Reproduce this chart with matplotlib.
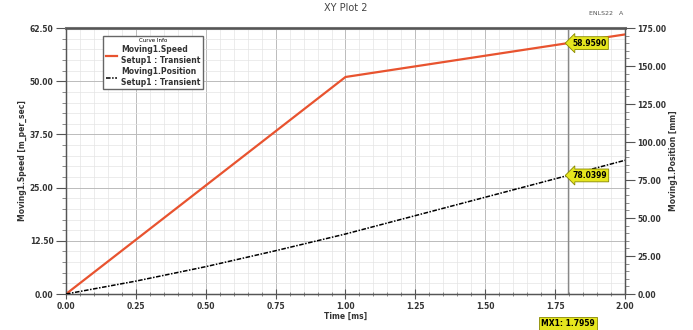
import numpy as np
import matplotlib
matplotlib.use("Agg")
from matplotlib import pyplot as plt
from matplotlib.ticker import MultipleLocator

# data
time_ms = [0.0, 0.25, 0.5, 0.75, 1.0, 1.25, 1.5, 1.75, 2.0]
speed = [0.0, 12.75, 25.5, 38.25, 51.0, 53.5, 56.0, 58.5, 61.0]
position = [0.0, 8.5, 18.0, 28.5, 39.5, 51.6, 63.7, 75.8, 88.0]
marker_t = 1.7959

fig = plt.figure(figsize=(6.93, 3.3), dpi=100)
ax = fig.add_axes([0.0952, 0.109, 0.8067, 0.806])
ax2 = ax.twinx()

ax.plot(time_ms, speed, color="#e8532f", lw=1.6, zorder=3)
ax2.plot(time_ms, position, color="black", lw=1.1, ls=(0, (3, 1, 1, 1)), zorder=3)

ax.set_xlim(0, 2)
ax.set_ylim(0, 62.5)
ax2.set_ylim(0, 175)

tf = dict(fontsize=5.5, fontweight="bold", color="#333333")
ax.xaxis.set_major_locator(MultipleLocator(0.25))
ax.xaxis.set_minor_locator(MultipleLocator(0.05))
ax.yaxis.set_major_locator(MultipleLocator(12.5))
ax.yaxis.set_minor_locator(MultipleLocator(2.5))
ax2.yaxis.set_major_locator(MultipleLocator(25))
ax2.yaxis.set_minor_locator(MultipleLocator(5))
ax.xaxis.set_major_formatter(lambda v, p: f"{v:.2f}")
ax.yaxis.set_major_formatter(lambda v, p: f"{v:.2f}")
ax2.yaxis.set_major_formatter(lambda v, p: f"{v:.2f}")

for a in (ax, ax2):
    a.tick_params(which="major", length=7, width=0.8, color="#555555", pad=2, labelsize=5.5)
    a.tick_params(which="minor", length=3, width=0.6, color="#777777")
    for lab in a.get_xticklabels() + a.get_yticklabels():
        lab.set_fontweight("bold")
        lab.set_color("#333333")
    for s in a.spines.values():
        s.set_color("#555555")
        s.set_linewidth(0.9)
ax.tick_params(axis="x", which="both", direction="inout")
ax.spines["top"].set_linewidth(2.2)
ax.spines["top"].set_color("#777777")

ax.grid(which="major", color="#bbbbbb", lw=0.7)
ax.grid(which="minor", color="#e4e4e4", lw=0.5)
ax.set_axisbelow(True)

ax.set_xlabel("Time [ms]", labelpad=1, **tf)
ax.set_ylabel("Moving1.Speed [m_per_sec]", labelpad=2, **tf)
ax2.set_ylabel("Moving1.Position [mm]", labelpad=2, **tf)
ax.set_title("XY Plot 2", fontsize=7, color="#444444", pad=12)
fig.text(0.875, 0.955, "ENLS22   A", fontsize=4.5, color="#555555", ha="center")

# marker line and labels
ax.axvline(marker_t, color="#888888", lw=1.0, zorder=2)
sp_m = np.interp(marker_t, time_ms, speed)
ps_m = np.interp(marker_t, time_ms, position)
box = dict(boxstyle="larrow,pad=0.25", fc="#e6e61e", ec="#888800", lw=0.6)
ax.text(marker_t + 0.015, sp_m, f"{sp_m:.4f}", fontsize=5.5, fontweight="bold",
        va="center", ha="left", bbox=box, zorder=5)
ax2.text(marker_t + 0.015, ps_m, f"{ps_m:.4f}", fontsize=5.5, fontweight="bold",
         va="center", ha="left", bbox=box, zorder=5)
ax.annotate(f"MX1: {marker_t:.4f}", xy=(marker_t, 0), xycoords=("data", "axes fraction"),
            xytext=(0, -21), textcoords="offset points", ha="center", va="center",
            fontsize=5.5, fontweight="bold",
            bbox=dict(boxstyle="square,pad=0.25", fc="#e6e61e", ec="#888800", lw=0.6),
            annotation_clip=False)

# legend box
leg = ax.legend(ax.lines[:1] + ax2.lines[:1],
                ["Moving1.Speed\nSetup1 : Transient", "Moving1.Position\nSetup1 : Transient"],
                loc="upper left", bbox_to_anchor=(0.06, 0.985), fontsize=5.5,
                title="Curve Info", title_fontsize=4, frameon=True, fancybox=False,
                edgecolor="#666666", framealpha=1, handlelength=1.5, borderpad=0.3,
                labelspacing=0.3, handletextpad=0.5)
for t in leg.get_texts():
    t.set_fontweight("bold")
    t.set_color("#333333")

fig.savefig("out.png", dpi=100)
